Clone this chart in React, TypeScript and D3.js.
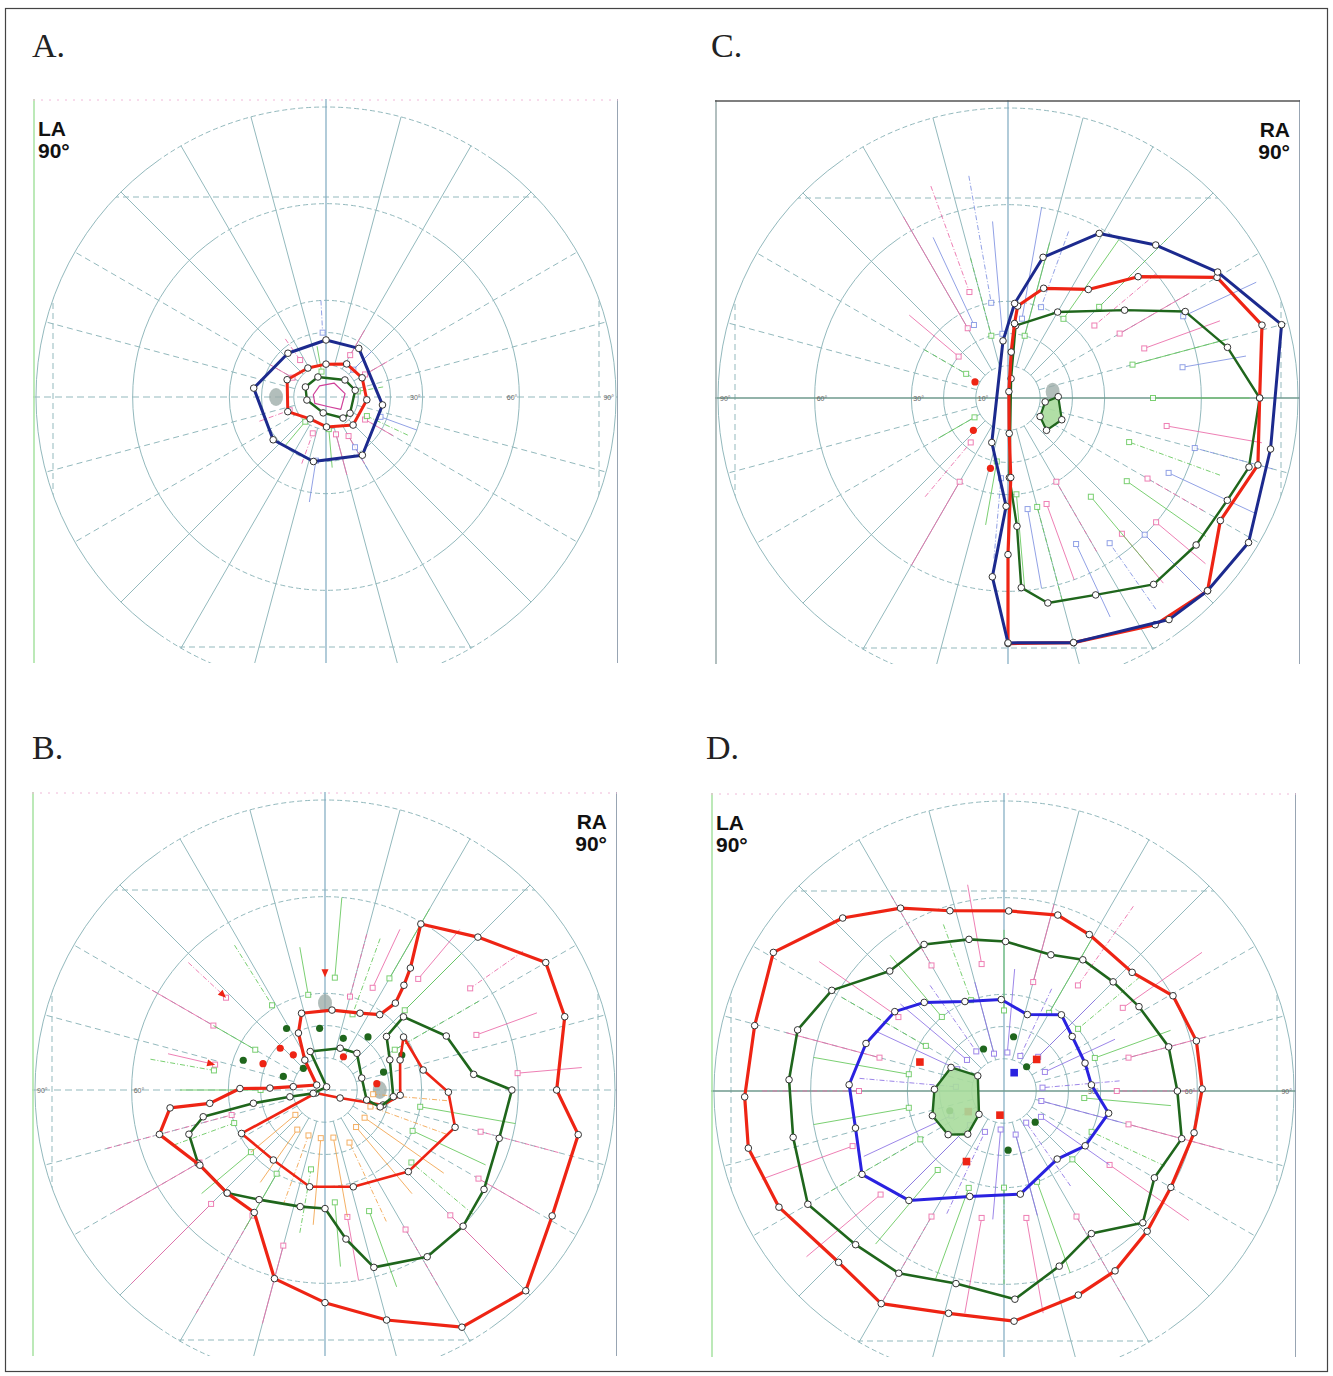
import React from "react";
import * as d3 from "d3";

// points are [meridian in degrees (0 = right, counter-clockwise), eccentricity in degrees]
type Pt = [number, number];
type Vec = [number, number, number]; // meridian, from ecc, to ecc

const rings = [10, 20, 30, 60, 90];
const meridians = [15, 30, 45, 60, 75, 105, 120, 135, 150, 165, 195, 210, 225, 240, 255, 285, 300, 315, 330, 345];
const dashedMeridians = [15, 30, 150, 165, 195, 210, 330, 345];

// ---- panel A (LA) ----
const aBlue: Pt[] = [[90, 17.7], [56, 18.2], [-8, 17.7], [-58, 21.3], [-101, 20.4], [-141, 21.1], [173, 22.6], [131, 18]];
const aRed: Pt[] = [[90, 10.2], [58, 12.1], [28, 12.7], [-4, 12.7], [-46, 12.1], [-89, 9.3], [-126, 8.4], [-159, 12.7], [156, 13.2], [122, 10.6]];
const aGreen: Pt[] = [[154, 7.1], [112, 6.7], [42, 7.9], [13, 9.3], [-34, 9], [-51, 8.4], [-100, 5], [-171, 6]];
const aScribble: Pt[] = [[120, 4], [60, 5], [10, 6], [-40, 6], [-80, 3], [-150, 4], [170, 4]];
const aPink: Vec[] = [[125, 22, 14], [60, 24, 15], [30, 22, 14], [-110, 22, 12], [-75, 25, 12], [-60, 24, 14], [200, 22, 12], [150, 20, 12], [-30, 24, 14]];
const aBlueVec: Vec[] = [[93, 30, 20], [-20, 30, 18], [-99, 33, 20], [-60, 26, 18], [45, 20, 12]];
const aGreenVec: Vec[] = [[-25, 28, 14], [-130, 20, 10], [-85, 22, 10], [10, 18, 10], [100, 16, 8]];

// ---- panel B (RA) ----
const bRedOuter: Pt[] = [[107, 24.9], [85, 24.9], [65.5, 26.2], [54, 28.9], [51, 34.7], [53, 40.7], [55, 46.2], [60, 59.5], [45, 67.1], [30, 79.1], [17, 77.8], [0, 71.9], [-10, 79.8], [-29, 80.6], [-45, 88.1], [-60, 85], [-75, 73.9], [-90, 66], [-105, 60.6], [-120, 43.9], [-133.5, 44.1], [-149, 45.3], [-165, 53.2], [-173.4, 48.4], [-173.4, 36], [-181, 26.4], [-182, 17.1], [-186, 9.9], [-211, 3], [-236, 11.2], [-245, 19.5]];
const bRedInner: Pt[] = [[198, 3], [207.5, 29.2], [233.6, 27], [261, 30.4], [286.3, 31.3], [315.6, 36.2], [344, 42], [359, 38.3], [371.5, 31.1], [394, 29.4], [381.8, 25.1], [356, 23.4], [345.5, 18.6], [332, 5.3]];
const bGreen: Pt[] = [[63, 1.1], [111, 12.8], [70, 13.8], [49, 15.1], [18, 12], [-13.5, 13.3], [-17, 17.9], [-5.6, 21.3], [25, 22.2], [41, 25.3], [43, 33.3], [24, 41.2], [6, 46.4], [0, 58], [-15.5, 56.1], [-32, 58.2], [-44.6, 60.2], [-58.5, 60.7], [-74.6, 57.1], [-82, 46.7], [-90, 36.8], [-102, 37], [-121, 39.7], [-133.5, 44.1], [-150, 45.5], [-162, 44.4], [-167.6, 38.7], [-169.5, 22.6], [-169, 11.1], [-164, 3.8]];
const bGreenDots: Pt[] = [[122, 22.5], [95, 19.2], [70.5, 17], [51, 21.2], [162, 13.6], [160, 27], [24.5, 26.2], [17, 19], [135, 9.5]];
const bRedDots: Pt[] = [[137, 19], [132, 14.7], [157, 20.9], [61, 11.8], [7, 16.2]];
const bPink: Vec[] = [[137, 58, 42], [167, 50, 35], [150, 62, 40], [195, 70, 30], [210, 75, 45], [225, 85, 50], [240, 80, 45], [255, 75, 50], [-80, 60, 40], [-60, 70, 50], [-45, 80, 55], [-30, 75, 55], [-15, 75, 50], [5, 80, 60], [20, 70, 50], [35, 75, 55], [50, 65, 45], [65, 55, 35], [75, 50, 30]];
const bGreenVec: Vec[] = [[122, 53, 31], [100, 45, 30], [85, 60, 35], [70, 50, 25], [60, 65, 40], [45, 60, 35], [30, 55, 25], [-10, 60, 30], [-25, 55, 30], [-40, 60, 35], [-70, 65, 40], [-85, 55, 35], [-100, 45, 25], [-120, 50, 30], [-140, 50, 30], [-160, 50, 30], [180, 45, 20], [150, 40, 25], [170, 55, 35]];
const bOrange: Vec[] = [[-20, 40, 15], [-35, 45, 15], [-50, 42, 15], [-65, 45, 18], [-80, 40, 15], [-95, 42, 15], [-110, 38, 15], [-125, 35, 15], [-140, 30, 12], [-5, 38, 15]];
const bArrows: Pt[] = [[137, 42], [167, 35], [90, 35]];

// ---- panel C (RA) ----
const cBlue: Pt[] = [[61, 58.4], [46, 66], [31, 75.9], [15, 87.9], [-11, 83], [-31, 87.1], [-44, 86.1], [-54, 85], [-75, 78.6], [-90, 76], [-95, 55.7], [-91, 33.6], [-110, 14.7], [95, 17.8], [86, 29.4], [76, 45]];
const cRed: Pt[] = [[72, 35.8], [53.5, 41.9], [43, 55.2], [30, 74.9], [16, 82], [0, 78.1], [-15, 80.3], [-30, 76.1], [-44, 86.1], [-57, 83.9], [-75, 78.6], [-90, 76.2], [-90, 48.6], [-88, 24.7], [-88, 11], [82, 2], [86, 14.3], [85, 23.2], [84, 28.7]];
const cGreen: Pt[] = [[84, 22.6], [60, 30.8], [37, 45.3], [26, 61.2], [13, 69.9], [0, 78.1], [-16, 77.8], [-25, 75.1], [-38, 74.1], [-52, 73.4], [-66, 66.9], [-79, 64.8], [-86, 59], [-86, 39.9], [-89, 24.7], [81, 6.1]];
const cSpot: Pt[] = [[-6, 11.6], [1.5, 15.6], [-22, 18], [-40, 15.6], [-30, 11.5]];
const cRedDots: Pt[] = [[154, 11.4], [-137, 14.7], [-104, 22.5]];
const cPink: Vec[] = [[110, 70, 35], [120, 65, 25], [140, 40, 20], [-130, 40, 18], [-120, 60, 30], [-70, 60, 35], [-60, 55, 30], [-50, 75, 55], [-40, 80, 60], [-30, 70, 50], [20, 70, 45], [30, 65, 40], [40, 60, 35], [-10, 80, 50]];
const cBlueVec: Vec[] = [[100, 70, 30], [95, 55, 20], [80, 60, 25], [70, 55, 30], [25, 85, 60], [10, 75, 55], [-15, 85, 60], [-25, 85, 55], [-45, 85, 60], [-55, 80, 55], [-65, 75, 50], [-80, 60, 35], [-95, 50, 25], [115, 55, 25]];
const cGreenVec: Vec[] = [[105, 45, 20], [75, 50, 20], [55, 60, 30], [45, 70, 40], [15, 70, 40], [0, 75, 45], [-20, 70, 40], [-35, 75, 45], [-50, 70, 40], [-75, 65, 35], [-85, 60, 30], [-100, 40, 20], [150, 30, 15], [-150, 25, 12]];

// ---- panel D (LA) ----
const dRed: Pt[] = [[119.5, 65.2], [106.7, 58.4], [88.5, 55.9], [73, 57.1], [61.4, 55.3], [42.8, 54.2], [29.4, 60.2], [14.6, 61.7], [0.6, 61.5], [-12.4, 60.4], [-30, 59.8], [-44.4, 62.2], [-58.3, 65.6], [-70, 67.4], [-87.5, 71.5], [-104, 71.1], [-120, 76.2], [-134, 73.9], [-152.7, 78.6], [-167.4, 81.3], [-178.7, 80.5], [165.3, 80], [149, 83.5], [133, 73.4]];
const dGreen: Pt[] = [[118.6, 51.8], [103, 48.3], [89.4, 46.4], [71, 44.7], [59, 47.5], [45, 47.9], [32, 49.4], [15, 52.9], [0, 53.8], [-15, 57.1], [-30, 53.9], [-43.5, 59.4], [-58.5, 51.9], [-72.5, 57], [-87, 64.7], [-104, 61.6], [-120, 65.3], [-134, 66.3], [-150, 70.3], [-167.6, 67], [177, 66.8], [163.5, 66.8], [149.7, 61.9], [133.6, 51.4]];
const dBlue: Pt[] = [[132, 37], [113.6, 30.3], [91.7, 28.4], [73, 24.8], [53, 29.6], [38.6, 27.1], [19, 26.6], [4, 27.2], [-12, 33.2], [-34, 30.4], [-52, 26.8], [-81, 32.4], [-108, 34.4], [-131, 45], [-149.6, 51.1], [-166, 47.5], [177.7, 48.1], [161, 45.3], [144, 41.9]];
const dSpot: Pt[] = [[156, 18], [150, 9.4], [-137, 10.6], [-130, 17.5], [-142, 22], [-161, 23.5], [178.6, 21.6]];
const dGreenDots: Pt[] = [[80, 17.1], [116, 14.5], [47, 10.3], [-160, 17.9], [-45, 13.7], [-86, 18.4]];
const dRedDots: Pt[] = [[161, 27.6], [44, 14.1], [-150, 12.8], [-99.5, 7.6], [-118, 24.8]];
const dBlueDots: Pt[] = [[61, 6.5]];
const dPink: Vec[] = [[120, 70, 45], [100, 65, 40], [75, 60, 35], [55, 70, 40], [35, 75, 45], [15, 65, 40], [0, 60, 35], [-15, 70, 40], [-35, 70, 40], [-60, 75, 45], [-80, 70, 40], [-100, 70, 40], [-120, 75, 45], [-140, 80, 50], [-160, 80, 50], [180, 75, 45], [165, 70, 40], [145, 70, 40]];
const dViolet: Vec[] = [[125, 40, 15], [105, 35, 12], [85, 38, 12], [65, 35, 12], [45, 40, 15], [25, 38, 14], [5, 36, 12], [-15, 38, 12], [-35, 40, 14], [-55, 36, 12], [-75, 40, 14], [-95, 40, 12], [-115, 42, 14], [-135, 44, 15], [-155, 48, 18], [175, 45, 15], [155, 44, 16], [140, 42, 15]];
const dGreenVec: Vec[] = [[110, 55, 30], [90, 50, 25], [60, 55, 28], [40, 55, 30], [20, 55, 30], [-5, 52, 25], [-25, 55, 30], [-45, 55, 30], [-70, 60, 30], [-90, 60, 30], [-110, 62, 32], [-130, 62, 32], [-150, 62, 30], [-170, 60, 30], [170, 60, 30], [150, 58, 28], [130, 55, 30]];

const NAVY = "#1c2a8e";
const RED = "#ee2414";
const DKGREEN = "#1f661c";
const BLUE = "#2a22e0";
const PINK = "#ec6aa8";
const LBLUE = "#7f92e2";
const LGREEN = "#64c85a";
const ORANGE = "#f3a34a";
const VIOLET = "#8c72e6";
const GRID = "#93b9bd";

const R = d3.scaleLinear().domain([0, 90]).range([0, 290]);
const rad = (deg: number) => (deg * Math.PI) / 180;
const xy = (p: Pt): [number, number] => [R(p[1]) * Math.cos(rad(p[0])), -R(p[1]) * Math.sin(rad(p[0]))];
const closedLine = d3
  .lineRadial<Pt>()
  .angle((p) => rad(90 - p[0]))
  .radius((p) => R(p[1]))
  .curve(d3.curveLinearClosed);

function ringArc(r: number, a0: number, a1: number) {
  const p = d3.path();
  p.arc(0, 0, r, -rad(a0), -rad(a1), true);
  return p.toString();
}

type Iso = { data: Pt[]; color: string; width: number; fill?: string; markers?: boolean };
type Dots = { data: Pt[]; color: string; shape: "circle" | "square" };
type Vecs = { data: Vec[]; color: string };

type PanelCfg = {
  key: string;
  label: string;
  lx: number;
  ly: number;
  cx: number;
  cy: number;
  eye: string;
  eyeRight: boolean;
  tickSide: number;
  ticks: number[];
  hDashed: boolean;
  topSolid: boolean;
  isopters: Iso[];
  dots: Dots[];
  vectors: Vecs[];
  arrows?: Pt[];
  blobs: Pt[];
};

const panels: PanelCfg[] = [
  {
    key: "A", label: "A.", lx: 32, ly: 57, cx: 326, cy: 397, eye: "LA", eyeRight: false,
    tickSide: 1, ticks: [30, 60, 90], hDashed: true, topSolid: false,
    isopters: [
      { data: aScribble, color: "#d0409a", width: 1.2 },
      { data: aGreen, color: DKGREEN, width: 2.4, markers: true },
      { data: aRed, color: RED, width: 3, markers: true },
      { data: aBlue, color: NAVY, width: 3, markers: true },
    ],
    dots: [],
    vectors: [{ data: aPink, color: PINK }, { data: aBlueVec, color: LBLUE }, { data: aGreenVec, color: LGREEN }],
    blobs: [[180, 15.5]],
  },
  {
    key: "C", label: "C.", lx: 711, ly: 57, cx: 1008, cy: 398, eye: "RA", eyeRight: true,
    tickSide: -1, ticks: [10, 30, 60, 90], hDashed: false, topSolid: true,
    isopters: [
      { data: cSpot, color: DKGREEN, width: 2.2, fill: "#a9dc9c", markers: true },
      { data: cGreen, color: DKGREEN, width: 2.4, markers: true },
      { data: cRed, color: RED, width: 3.2, markers: true },
      { data: cBlue, color: NAVY, width: 3, markers: true },
    ],
    dots: [{ data: cRedDots, color: RED, shape: "circle" }],
    vectors: [{ data: cPink, color: PINK }, { data: cBlueVec, color: LBLUE }, { data: cGreenVec, color: LGREEN }],
    blobs: [[8, 14]],
  },
  {
    key: "B", label: "B.", lx: 32, ly: 759, cx: 325, cy: 1090, eye: "RA", eyeRight: true,
    tickSide: -1, ticks: [60, 90], hDashed: true, topSolid: false,
    isopters: [
      { data: bRedInner, color: RED, width: 2.6, markers: true },
      { data: bGreen, color: DKGREEN, width: 2.6, markers: true },
      { data: bRedOuter, color: RED, width: 3.2, markers: true },
    ],
    dots: [{ data: bGreenDots, color: DKGREEN, shape: "circle" }, { data: bRedDots, color: RED, shape: "circle" }],
    vectors: [{ data: bPink, color: PINK }, { data: bGreenVec, color: LGREEN }, { data: bOrange, color: ORANGE }],
    arrows: bArrows,
    blobs: [[90, 27], [0, 17]],
  },
  {
    key: "D", label: "D.", lx: 706, ly: 759, cx: 1004, cy: 1091, eye: "LA", eyeRight: false,
    tickSide: 1, ticks: [30, 60, 90], hDashed: false, topSolid: false,
    isopters: [
      { data: dSpot, color: DKGREEN, width: 2.4, fill: "#a9dc9c", markers: true },
      { data: dBlue, color: BLUE, width: 3, markers: true },
      { data: dGreen, color: DKGREEN, width: 2.6, markers: true },
      { data: dRed, color: RED, width: 3.2, markers: true },
    ],
    dots: [
      { data: dGreenDots, color: DKGREEN, shape: "circle" },
      { data: dRedDots, color: RED, shape: "square" },
      { data: dBlueDots, color: BLUE, shape: "square" },
    ],
    vectors: [{ data: dPink, color: PINK }, { data: dViolet, color: VIOLET }, { data: dGreenVec, color: LGREEN }],
    blobs: [],
  },
];

function Panel({ cfg }: { cfg: PanelCfg }) {
  const clip = `clip-${cfg.key}`;
  const circ = `circ-${cfg.key}`;
  const left = -293;
  const right = 292;
  const top = -298;
  const bottom = 266;
  return (
    <g>
      <text x={cfg.lx} y={cfg.ly} fontFamily="'Liberation Serif', 'DejaVu Serif', serif" fontSize={34} fill="#222">
        {cfg.label}
      </text>
      <g transform={`translate(${cfg.cx},${cfg.cy})`}>
        <defs>
          <clipPath id={clip}>
            <rect x={left} y={top} width={right - left} height={bottom - top} />
          </clipPath>
          <clipPath id={circ}>
            <circle r={R(90)} />
          </clipPath>
        </defs>
        <g clipPath={`url(#${clip})`}>
          {/* projection limit rectangle, only inside the outer ring */}
          <g clipPath={`url(#${circ})`}>
            <rect x={-273} y={-200} width={546} height={450} fill="none" stroke={GRID} strokeDasharray="6 4" strokeWidth={1} />
          </g>
          {rings.map((r) => (
            <g key={r} fill="none" stroke={GRID} strokeWidth={1}>
              <path d={ringArc(R(r), -55, 55)} />
              <path d={ringArc(R(r), 125, 235)} />
              <path d={ringArc(R(r), 55, 125)} strokeDasharray="5 3" />
              <path d={ringArc(R(r), 235, 305)} strokeDasharray="5 3" />
            </g>
          ))}
          {meridians.map((m) => {
            const [x0, y0] = xy([m, 10]);
            const [x1, y1] = xy([m, 90]);
            return (
              <line
                key={m}
                x1={x0} y1={y0} x2={x1} y2={y1}
                stroke={GRID}
                strokeWidth={1}
                strokeDasharray={dashedMeridians.includes(m) ? "6 4" : undefined}
              />
            );
          })}
          <line x1={0} y1={top} x2={0} y2={bottom} stroke="#7ea9c0" strokeWidth={1.2} />
          <line
            x1={left} y1={0} x2={right} y2={0}
            stroke={cfg.hDashed ? GRID : "#6f9a8e"}
            strokeWidth={cfg.hDashed ? 1 : 1.3}
            strokeDasharray={cfg.hDashed ? "7 4" : undefined}
          />
          <line x1={left + 1} y1={top} x2={left + 1} y2={bottom} stroke={cfg.topSolid ? "#9aa" : "#a6e2a0"} strokeWidth={1.5} />
          <line x1={right} y1={top} x2={right} y2={bottom} stroke="#8d9cab" strokeWidth={1.8} />
          <line
            x1={left} y1={top + 1} x2={right} y2={top + 1}
            stroke={cfg.topSolid ? "#555" : "#f0b8d8"}
            strokeWidth={cfg.topSolid ? 1.5 : 1}
            strokeDasharray={cfg.topSolid ? undefined : "2 6"}
          />
          {cfg.ticks.map((t) => (
            <text
              key={t}
              x={cfg.tickSide > 0 ? R(t) - 2 : -R(t) + 2}
              y={3}
              textAnchor={cfg.tickSide > 0 ? "end" : "start"}
              fontFamily="'Liberation Sans', Arial, sans-serif"
              fontSize={7}
              fill="#666"
            >
              {`${t}°`}
            </text>
          ))}
          {cfg.blobs.map((b, i) => {
            const [x, y] = xy(b);
            return <ellipse key={i} cx={x} cy={y} rx={7} ry={9} fill="#98a8a4" opacity={0.75} />;
          })}
          {cfg.vectors.map((v, i) => (
            <g key={i} stroke={v.color} strokeWidth={1} opacity={0.85}>
              {v.data.map((d, j) => {
                const [x0, y0] = xy([d[0], d[1]]);
                const [x1, y1] = xy([d[0], d[2]]);
                return (
                  <g key={j}>
                    <line x1={x0} y1={y0} x2={x1} y2={y1} strokeDasharray={j % 3 === 0 ? "5 2 1 2" : undefined} />
                    <rect x={x1 - 2.5} y={y1 - 2.5} width={5} height={5} fill="white" />
                  </g>
                );
              })}
            </g>
          ))}
          {(cfg.arrows || []).map((a, i) => {
            const [x, y] = xy(a);
            const ang = -a[0] + 180;
            return (
              <path
                key={i}
                d="M0,0 L-8,-3.5 L-8,3.5 Z"
                transform={`translate(${x},${y}) rotate(${ang})`}
                fill={RED}
              />
            );
          })}
          {cfg.dots.map((g, i) => (
            <g key={i} fill={g.color}>
              {g.data.map((d, j) => {
                const [x, y] = xy(d);
                return g.shape === "circle" ? (
                  <circle key={j} cx={x} cy={y} r={3.6} />
                ) : (
                  <rect key={j} x={x - 3.8} y={y - 3.8} width={7.6} height={7.6} />
                );
              })}
            </g>
          ))}
          {cfg.isopters.map((iso, i) => (
            <g key={i}>
              <path
                d={closedLine(iso.data) || ""}
                fill={iso.fill || "none"}
                fillOpacity={iso.fill ? 0.9 : 0}
                stroke={iso.color}
                strokeWidth={iso.width}
                strokeLinejoin="round"
              />
              {iso.markers &&
                iso.data.map((d, j) => {
                  const [x, y] = xy(d);
                  return <circle key={j} cx={x} cy={y} r={3.3} fill="white" stroke="#333" strokeWidth={1} />;
                })}
            </g>
          ))}
        </g>
        <g
          fontFamily="'Liberation Sans', Arial, sans-serif"
          fontWeight="bold"
          fontSize={21}
          fill="#111"
          textAnchor={cfg.eyeRight ? "end" : "start"}
        >
          <text x={cfg.eyeRight ? 282 : -288} y={-261}>{cfg.eye}</text>
          <text x={cfg.eyeRight ? 282 : -288} y={-239}>90°</text>
        </g>
      </g>
    </g>
  );
}

export default function App() {
  return (
    <div style={{ position: "absolute", left: 0, top: 0 }}>
      <svg width={1333} height={1376} style={{ display: "block", background: "white" }}>
        <rect x={5.5} y={8.5} width={1322} height={1363} fill="none" stroke="#444" strokeWidth={1.2} />
        {panels.map((p) => (
          <Panel key={p.key} cfg={p} />
        ))}
      </svg>
    </div>
  );
}
